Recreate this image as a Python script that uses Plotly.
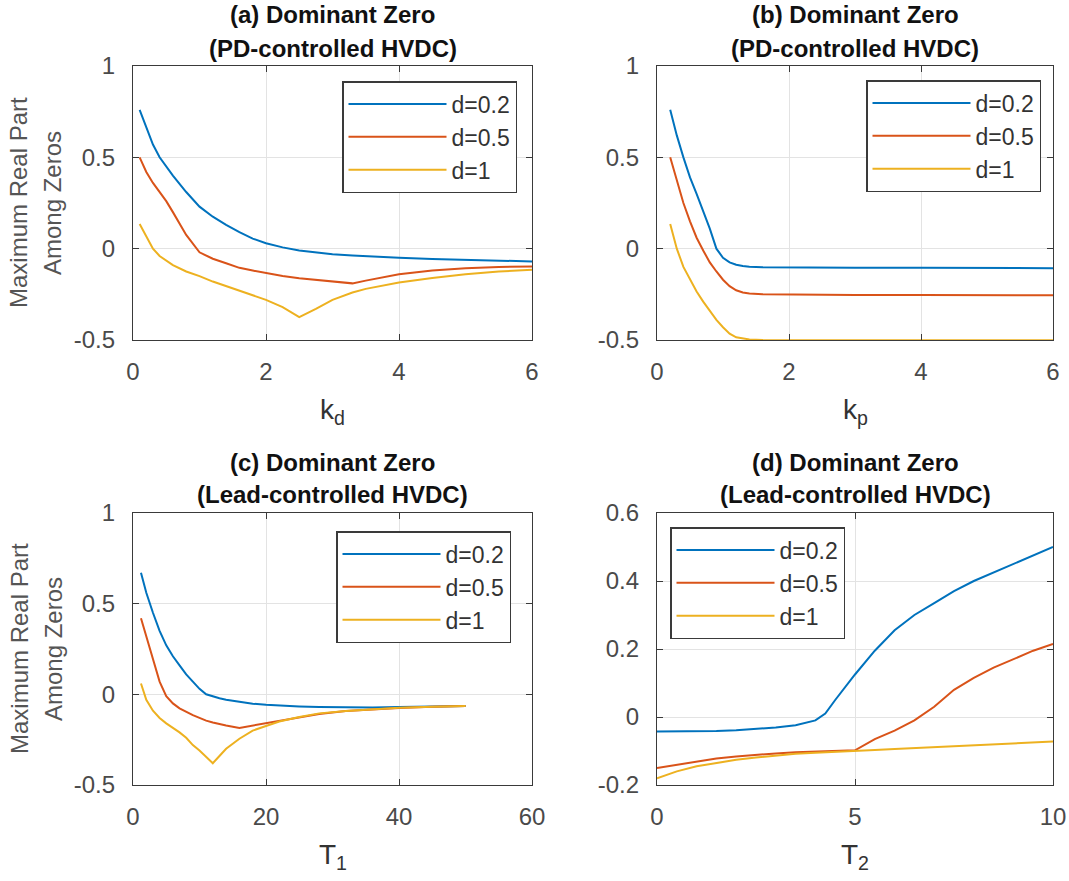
import plotly.graph_objects as go

# ---------------- data ----------------
series_names = ["d=0.2", "d=0.5", "d=1"]
colors = ["#0072BD", "#D95319", "#EDB120"]

# (a) vs k_d
kd = [0.1, 0.2, 0.3, 0.4, 0.5, 0.6, 0.8, 1.0, 1.2, 1.4, 1.6, 1.8, 2.0, 2.25, 2.5,
      2.75, 3.0, 3.3, 3.5, 4.0, 4.5, 5.0, 5.5, 6.0]
a_d02 = [0.76, 0.66, 0.57, 0.50, 0.45, 0.40, 0.31, 0.23, 0.175, 0.13, 0.09, 0.055, 0.03,
         0.007, -0.01, -0.022, -0.03, -0.037, -0.041, -0.05, -0.056, -0.061, -0.066, -0.07]
a_d05 = [0.50, 0.42, 0.36, 0.31, 0.26, 0.20, 0.075, -0.02, -0.055, -0.08, -0.105, -0.12,
         -0.135, -0.15, -0.162, -0.172, -0.18, -0.19, -0.175, -0.14, -0.12, -0.107, -0.10, -0.097]
a_d1 = [0.135, 0.07, 0.0, -0.04, -0.065, -0.09, -0.125, -0.15, -0.18, -0.205, -0.23,
        -0.255, -0.28, -0.32, -0.375, -0.33, -0.28, -0.24, -0.22, -0.185, -0.16, -0.14, -0.125, -0.115]

# (b) vs k_p
kp = [0.2, 0.3, 0.4, 0.5, 0.6, 0.7, 0.8, 0.9, 1.0, 1.1, 1.2, 1.3, 1.4, 1.6, 1.8, 2.0,
      2.5, 3.0, 4.0, 5.0, 6.0]
b_d02 = [0.76, 0.62, 0.50, 0.39, 0.30, 0.21, 0.11, 0.0, -0.05, -0.075, -0.088, -0.095,
         -0.099, -0.102, -0.103, -0.104, -0.104, -0.105, -0.105, -0.106, -0.107]
b_d05 = [0.50, 0.37, 0.25, 0.15, 0.06, -0.01, -0.075, -0.125, -0.17, -0.205, -0.228, -0.24,
         -0.245, -0.249, -0.25, -0.251, -0.252, -0.253, -0.254, -0.255, -0.255]
b_d1 = [0.135, 0.0, -0.10, -0.17, -0.235, -0.29, -0.34, -0.39, -0.43, -0.465, -0.485,
        -0.493, -0.497, -0.5, -0.501, -0.502, -0.502, -0.502, -0.502, -0.502, -0.502]

# (c) vs T_1
t1 = [1.2, 2, 3, 4, 5, 6, 7, 8, 9, 10, 11, 12, 13, 14, 16, 18, 20, 22, 25, 28, 32, 36, 40, 45, 50]
c_d02 = [0.67, 0.56, 0.45, 0.35, 0.27, 0.21, 0.16, 0.11, 0.07, 0.03, 0.0, -0.012, -0.022,
         -0.03, -0.042, -0.052, -0.058, -0.063, -0.067, -0.07, -0.072, -0.072, -0.07, -0.068, -0.065]
c_d05 = [0.42, 0.32, 0.19, 0.07, -0.01, -0.05, -0.077, -0.097, -0.115, -0.13, -0.145, -0.155,
         -0.165, -0.172, -0.185, -0.172, -0.158, -0.145, -0.125, -0.108, -0.092, -0.082, -0.075, -0.069, -0.065]
c_d1 = [0.06, -0.03, -0.09, -0.13, -0.16, -0.185, -0.21, -0.24, -0.28, -0.31, -0.345, -0.38,
        -0.34, -0.30, -0.245, -0.20, -0.175, -0.15, -0.125, -0.105, -0.092, -0.082, -0.074, -0.069, -0.065]

# (d) vs T_2
t2 = [0, 0.5, 1, 1.5, 2, 2.5, 3, 3.5, 4, 4.25, 4.5, 5, 5.5, 6, 6.5, 7, 7.5, 8, 8.5, 9, 9.5, 10]
d_d02 = [-0.043, -0.043, -0.042, -0.041, -0.039, -0.036, -0.031, -0.024, -0.01, 0.01, 0.05,
         0.125, 0.195, 0.255, 0.30, 0.335, 0.37, 0.40, 0.425, 0.45, 0.475, 0.50]
d_d05 = [-0.15, -0.14, -0.13, -0.122, -0.116, -0.111, -0.107, -0.104, -0.102, -0.101, -0.10,
         -0.098, -0.065, -0.04, -0.01, 0.03, 0.08, 0.115, 0.145, 0.17, 0.195, 0.215]
d_d1 = [-0.18, -0.16, -0.145, -0.135, -0.126, -0.119, -0.113, -0.108, -0.105, -0.104, -0.102,
        -0.10, -0.097, -0.094, -0.091, -0.088, -0.085, -0.082, -0.079, -0.077, -0.074, -0.072]

titles = ["(a) Dominant Zero<br>(PD-controlled HVDC)",
          "(b) Dominant Zero<br>(PD-controlled HVDC)",
          "(c) Dominant Zero<br>(Lead-controlled HVDC)",
          "(d) Dominant Zero<br>(Lead-controlled HVDC)"]
xlabels = ["k<sub>d</sub>", "k<sub>p</sub>", "T<sub>1</sub>", "T<sub>2</sub>"]
ylabel_lines = ["Maximum Real Part", "Among Zeros"]

xticks_ab = [0, 2, 4, 6]
xticks_c = [0, 20, 40, 60]
xticks_d = [0, 5, 10]
yticks_abc = [-0.5, 0, 0.5, 1]
yticks_abc_text = ["-0.5", "0", "0.5", "1"]
yticks_d = [-0.2, 0, 0.2, 0.4, 0.6]
yticks_d_text = ["-0.2", "0", "0.2", "0.4", "0.6"]

# ---------------- layout geometry ----------------
W, H = 1069, 881
col_px = [(133, 532), (657, 1053)]
row_px = [(66, 340), (513, 785)]
legend_px = [(342, 81), (866, 80), (336, 531), (670, 527)]

panels = [
    (kd, [a_d02, a_d05, a_d1], xticks_ab, [0, 6], yticks_abc, yticks_abc_text, [-0.5, 1]),
    (kp, [b_d02, b_d05, b_d1], xticks_ab, [0, 6], yticks_abc, yticks_abc_text, [-0.5, 1]),
    (t1, [c_d02, c_d05, c_d1], xticks_c, [0, 60], yticks_abc, yticks_abc_text, [-0.5, 1]),
    (t2, [d_d02, d_d05, d_d1], xticks_d, [0, 10], yticks_d, yticks_d_text, [-0.2, 0.6]),
]

FONT = "Liberation Sans, Arial, sans-serif"
AXC = "#3a3a3a"

fig = go.Figure()
layout = dict(
    width=W, height=H,
    margin=dict(l=0, r=0, t=0, b=0, pad=0, autoexpand=False),
    paper_bgcolor="white", plot_bgcolor="white",
    font=dict(family=FONT, color="#333333"),
    annotations=[],
)

for i, (xv, ys, xt, xr, yt, ytt, yr) in enumerate(panels):
    r, c = divmod(i, 2)
    sfx = "" if i == 0 else str(i + 1)
    x0, x1 = col_px[c]
    y0, y1 = row_px[r]
    leg = "legend" if i == 0 else f"legend{i + 1}"
    for k in range(3):
        fig.add_trace(go.Scatter(
            x=xv, y=ys[k], mode="lines", name=series_names[k],
            line=dict(color=colors[k], width=2),
            xaxis="x" + sfx, yaxis="y" + sfx, legend=leg,
            legendgroup=f"p{i}s{k}",
        ))
    layout["xaxis" + sfx] = dict(
        domain=[x0 / W, x1 / W], anchor="y" + sfx, range=xr, automargin=False,
        tickvals=xt, ticktext=[str(v) for v in xt],
        showline=True, mirror="ticks", linecolor=AXC, linewidth=1.3,
        ticks="inside", ticklen=6, tickcolor=AXC,
        showgrid=True, gridcolor="#e3e3e3", gridwidth=1, zeroline=False,
        tickfont=dict(size=24, color="#4a4a4a", family=FONT), ticklabelstandoff=10,
    )
    layout["yaxis" + sfx] = dict(
        domain=[1 - y1 / H, 1 - y0 / H], anchor="x" + sfx, range=yr, automargin=False,
        tickvals=yt, ticktext=ytt,
        showline=True, mirror="ticks", linecolor=AXC, linewidth=1.3,
        ticks="inside", ticklen=6, tickcolor=AXC,
        showgrid=True, gridcolor="#e3e3e3", gridwidth=1, zeroline=False,
        tickfont=dict(size=24, color="#4a4a4a", family=FONT), ticklabelstandoff=12,
    )
    lx, ly = legend_px[i]
    layout[leg] = dict(
        x=lx / W, y=1 - ly / H, xanchor="left", yanchor="top",
        bgcolor="white", bordercolor=AXC, borderwidth=1.5,
        font=dict(size=23, color="#333333", family=FONT),
        itemwidth=98, tracegroupgap=0,
    )
    cx = (x0 + x1) / 2 / W
    # title lines
    tl = titles[i].split("<br>")
    for j, txt in enumerate(tl):
        layout["annotations"].append(dict(
            text="<b>" + txt + "</b>", x=cx, y=1 - (y0 - 51 + 33 * j) / H,
            xref="paper", yref="paper", xanchor="center", yanchor="middle",
            showarrow=False, font=dict(size=24, color="#111111", family=FONT),
        ))
    # x label
    layout["annotations"].append(dict(
        text=xlabels[i], x=cx, y=1 - (y1 + 52) / H, xref="paper", yref="paper",
        xanchor="center", yanchor="top", showarrow=False,
        font=dict(size=28, color="#333333", family=FONT),
    ))
    # y label (left column only)
    if c == 0:
        cy = 1 - (y0 + y1) / 2 / H
        for j, txt in enumerate(ylabel_lines):
            layout["annotations"].append(dict(
                text=txt, x=(19 + 34 * j) / W, y=cy, xref="paper", yref="paper",
                xanchor="center", yanchor="middle", textangle=-90, showarrow=False,
                font=dict(size=24, color="#555555", family=FONT),
            ))

fig.update_layout(**layout)
fig.write_html("out.html", config={"displayModeBar": False},
               post_script="document.body.style.margin='0';")
